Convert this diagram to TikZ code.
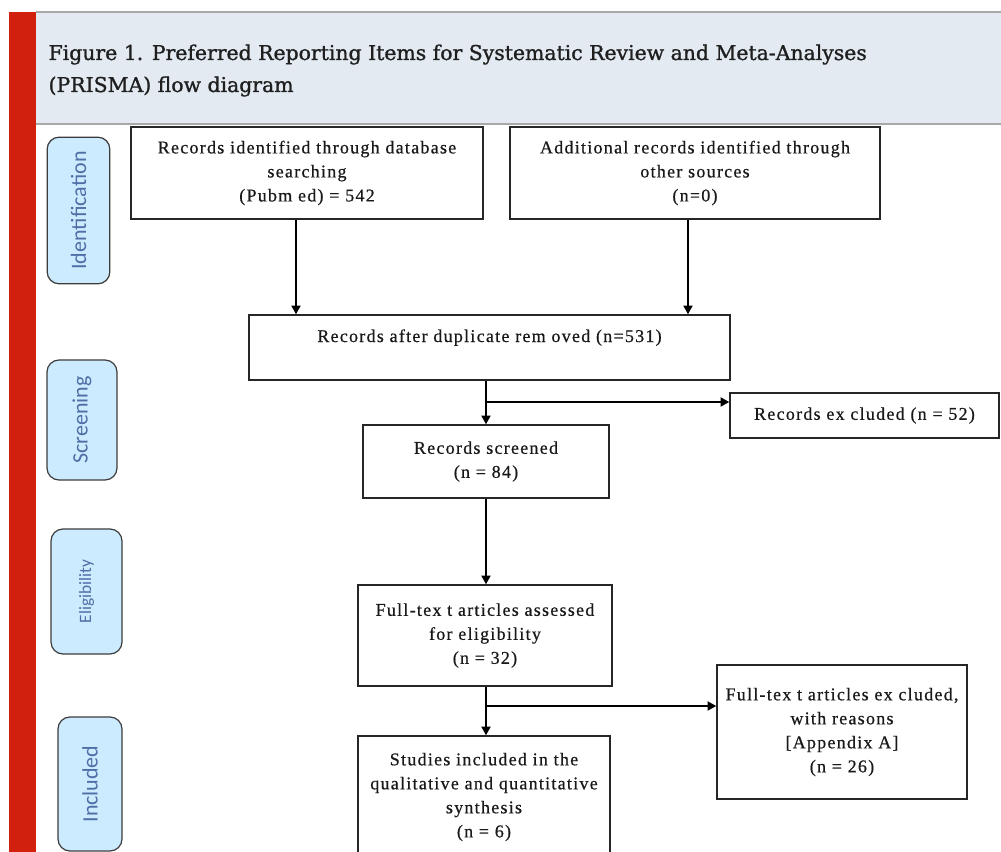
\documentclass[tikz,border=0pt]{standalone}
\usepackage{fontspec}
\usetikzlibrary{arrows.meta,positioning}
\newfontfamily\titlefont[FakeBold=1.2]{DejaVu Serif}
\newfontfamily\boxfont[LetterSpace=7,FakeBold=0.6]{Liberation Serif}
\newfontfamily\stagefont{Carlito}
\definecolor{barred}{HTML}{D2200F}
\definecolor{headfill}{HTML}{E3EAF1}
\definecolor{headline}{HTML}{A8A8A8}
\definecolor{stagefill}{HTML}{CCEBFF}
\definecolor{stagetext}{HTML}{4F6EA6}
\definecolor{stageline}{HTML}{3C3C3C}
\begin{document}
\begin{tikzpicture}[x=0.75pt, y=-0.75pt, line width=0.9pt,
  flowbox/.style={draw=black!85, line width=1.2pt, align=center, inner sep=2pt,
    text=black!90, font=\boxfont\fontsize{13.5}{18}\selectfont},
  stage/.style={draw=stageline, fill=stagefill, rounded corners=9pt, rotate=90,
    text=stagetext, inner sep=2pt, line width=0.9pt,
    font=\stagefont\fontsize{16.5}{18}\selectfont},
  flow/.style={line width=0.8pt, -{Triangle[length=6.5pt,width=7pt]}}]
  \useasboundingbox (0,0) rectangle (1001,852);
  \clip (0,0) rectangle (1001,852);
  % header band
  \fill[barred] (9,12) rectangle (36,852);
  \fill[headfill] (36,12) rectangle (1001,124);
  \draw[headline, line width=1.5pt] (36,12) -- (1001,12);
  \draw[headline, line width=1.5pt] (36,124) -- (1001,124);
  \node[anchor=base west, align=left, inner sep=0pt, text=black!88,
    font=\titlefont\fontsize{15.3}{24}\selectfont] (title) at (48,92)
    {Figure 1. Preferred Reporting Items for Systematic Review and Meta-Analyses\\(PRISMA) flow diagram};
  % stages
  \node[stage, minimum width=110pt, minimum height=47pt] (ident) at (78.5,210.5) {Identification};
  \node[stage, minimum width=90pt, minimum height=52.5pt] (scr) at (82,420) {Screening};
  \node[stage, minimum width=93.75pt, minimum height=53.25pt,
    font=\stagefont\fontsize{13}{15}\selectfont] (elig) at (86.5,591.5) {Eligibility};
  \node[stage, minimum width=100.5pt, minimum height=48pt] (inc) at (90,784) {Included};
  % boxes
  \node[flowbox, minimum width=264pt, minimum height=69pt] (db) at (307,173)
    {Records identified through database\\searching\\(Pubm ed) = 542};
  \node[flowbox, minimum width=277.5pt, minimum height=69pt] (other) at (695,173)
    {Additional records identified through\\other sources\\(n=0)};
  \node[flowbox, minimum width=360.75pt, minimum height=48.75pt, text height=9.5pt,
    text depth=17.7pt] (dup) at (489.5,347.5) {Records after duplicate rem oved (n=531)};
  \node[flowbox, minimum width=184.5pt, minimum height=54.75pt] (screen) at (486,461.5)
    {Records screened\\(n = 84)};
  \node[flowbox, minimum width=201.75pt, minimum height=33.75pt] (excl) at (864.5,415.5)
    {Records ex cluded (n = 52)};
  \node[flowbox, minimum width=190.5pt, minimum height=75.75pt] (full) at (485,635.5)
    {Full-tex t articles assessed\\for eligibility\\(n = 32)};
  \node[flowbox, minimum width=189pt, minimum height=91.5pt] (incl) at (484,797)
    {Studies included in the\\qualitative and quantitative\\synthesis\\(n = 6)};
  \node[flowbox, minimum width=187.5pt, minimum height=100.5pt] (reason) at (842,732)
    {Full-tex t articles ex cluded,\\with reasons\\{[}Appendix A{]}\\(n = 26)};
  % connectors
  \coordinate (j1) at (296,0);
  \coordinate (j2) at (688,0);
  \coordinate (t1) at (486,402);
  \coordinate (t2) at (486,706);
  \draw[flow] (db.south -| j1) -- (dup.north -| j1);
  \draw[flow] (other.south -| j2) -- (dup.north -| j2);
  \draw[flow] (dup.south -| screen.north) -- (screen.north);
  \draw[flow] (t1) -- (t1 -| excl.west);
  \draw[flow] (screen.south) -- (full.north -| screen.south);
  \draw[flow] (full.south -| screen.south) -- (incl.north -| screen.south);
  \draw[flow] (t2) -- (t2 -| reason.west);
\end{tikzpicture}
\end{document}
